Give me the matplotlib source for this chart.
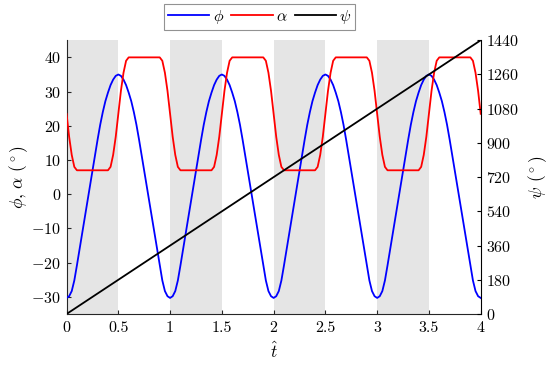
import numpy as np
import matplotlib
matplotlib.use("Agg")
import matplotlib.pyplot as plt

plt.rcParams["font.family"] = "serif"
plt.rcParams["font.serif"] = ["cmr10", "DejaVu Serif"]
plt.rcParams["mathtext.fontset"] = "cm"
plt.rcParams["axes.formatter.use_mathtext"] = True

# ---- data ----
T = np.linspace(0, 4, 161)          # sample times, step 0.025
PHI = [
    -30.3,-29.8,-28.3,-25.2,-20.8,-16.2,-11.6,-7.0,-2.5,2.0,6.6,11.4,16.0,20.3,24.0,27.2,29.7,31.9,33.5,34.6,35.0,34.6,33.5,31.9,29.7,27.2,24.0,20.3,16.0,11.4,6.6,2.0,-2.5,-7.0,-11.6,-16.2,-20.8,-25.2,-28.3,-29.8,-30.3,
    -29.8,-28.3,-25.2,-20.8,-16.2,-11.6,-7.0,-2.5,2.0,6.6,11.4,16.0,20.3,24.0,27.2,29.7,31.9,33.5,34.6,35.0,34.6,33.5,31.9,29.7,27.2,24.0,20.3,16.0,11.4,6.6,2.0,-2.5,-7.0,-11.6,-16.2,-20.8,-25.2,-28.3,-29.8,-30.3,
    -29.8,-28.3,-25.2,-20.8,-16.2,-11.6,-7.0,-2.5,2.0,6.6,11.4,16.0,20.3,24.0,27.2,29.7,31.9,33.5,34.6,35.0,34.6,33.5,31.9,29.7,27.2,24.0,20.3,16.0,11.4,6.6,2.0,-2.5,-7.0,-11.6,-16.2,-20.8,-25.2,-28.3,-29.8,-30.3,
    -29.8,-28.3,-25.2,-20.8,-16.2,-11.6,-7.0,-2.5,2.0,6.6,11.4,16.0,20.3,24.0,27.2,29.7,31.9,33.5,34.6,35.0,34.6,33.5,31.9,29.7,27.2,24.0,20.3,16.0,11.4,6.6,2.0,-2.5,-7.0,-11.6,-16.2,-20.8,-25.2,-28.3,-29.8,-30.3,
]
ALPHA = [
    23.5,16.8,11.5,8.0,7,7,7,7,7,7,7,7,7,7,7,7,7,8.0,11.5,16.8,23.5,30.2,35.5,39.0,40,40,40,40,40,40,40,40,40,40,40,40,40,39.0,35.5,30.2,23.5,
    16.8,11.5,8.0,7,7,7,7,7,7,7,7,7,7,7,7,7,8.0,11.5,16.8,23.5,30.2,35.5,39.0,40,40,40,40,40,40,40,40,40,40,40,40,40,39.0,35.5,30.2,23.5,
    16.8,11.5,8.0,7,7,7,7,7,7,7,7,7,7,7,7,7,8.0,11.5,16.8,23.5,30.2,35.5,39.0,40,40,40,40,40,40,40,40,40,40,40,40,40,39.0,35.5,30.2,23.5,
    16.8,11.5,8.0,7,7,7,7,7,7,7,7,7,7,7,7,7,8.0,11.5,16.8,23.5,30.2,35.5,39.0,40,40,40,40,40,40,40,40,40,40,40,40,40,39.0,35.5,30.2,23.5,
]
PSI_T = [0, 4]
PSI = [0, 1440]
SHADED = [(0, 0.5), (1, 1.5), (2, 2.5), (3, 3.5)]
XTICKS = [0, 0.5, 1, 1.5, 2, 2.5, 3, 3.5, 4]
XTICKLABELS = ["0", "0.5", "1", "1.5", "2", "2.5", "3", "3.5", "4"]
YTICKS_L = [-30, -20, -10, 0, 10, 20, 30, 40]
YTICKS_R = [0, 180, 360, 540, 720, 900, 1080, 1260, 1440]

AXGREY = "#262626"; SHADE = "#e5e5e5"
FS = 11.5

fig = plt.figure(figsize=(5.5, 3.65), dpi=100)
ax = fig.add_axes([0.121, 0.1397, 0.753, 0.750])
for a, b in SHADED:
    ax.axvspan(a, b, color=SHADE, lw=0, zorder=0)
l1, = ax.plot(T, PHI, color="#0000ff", lw=1.3, label=r"$\phi$", zorder=3)
l2, = ax.plot(T, ALPHA, color="#ff0000", lw=1.3, label=r"$\alpha$", zorder=3)
ax.set_xlim(0, 4); ax.set_ylim(-35, 45)
ax.set_xticks(XTICKS); ax.set_xticklabels(XTICKLABELS)
ax.set_yticks(YTICKS_L)
ax.tick_params(direction="in", length=3, labelsize=FS, colors=AXGREY, labelcolor="black")
ax.tick_params(axis="x", pad=5)
ax.tick_params(axis="y", pad=4)
for s in ["top", "right"]:
    ax.spines[s].set_visible(False)
for s in ["left", "bottom"]:
    ax.spines[s].set_color(AXGREY); ax.spines[s].set_linewidth(0.8)
ax.set_xlabel(r"$\hat{t}$", fontsize=FS + 1, labelpad=4)
ax.set_ylabel(r"$\phi$, $\alpha$ ($^\circ$)", fontsize=FS + 1, labelpad=1)

ax2 = ax.twinx()
l3, = ax2.plot(PSI_T, PSI, color="black", lw=1.3, label=r"$\psi$", zorder=3)
ax2.set_ylim(0, 1440); ax2.set_yticks(YTICKS_R)
ax2.tick_params(direction="in", length=3, labelsize=FS, pad=4)
for s in ["top", "left", "bottom"]:
    ax2.spines[s].set_visible(False)
ax2.spines["right"].set_linewidth(0.8)
ax2.set_ylabel(r"$\psi$ ($^\circ$)", fontsize=FS + 1, labelpad=5)

leg = fig.legend(handles=[l1, l2, l3], loc="upper center", bbox_to_anchor=(0.472, 0.989), ncol=3,
                 fontsize=FS, frameon=True, fancybox=False, edgecolor="#777777", handlelength=2.6,
                 columnspacing=0.45, handletextpad=0.2, borderpad=0.25, borderaxespad=0)
leg.get_frame().set_linewidth(0.8)

fig.savefig("out.png", dpi=100, facecolor="white")
